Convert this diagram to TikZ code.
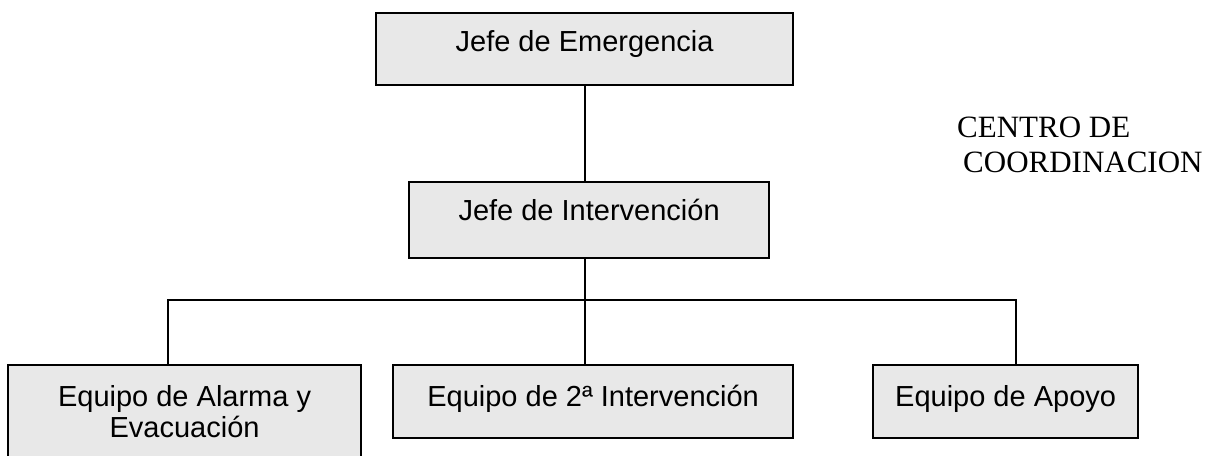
\documentclass[tikz,border=0pt]{standalone}
\usepackage{fontspec}
\setmainfont{Liberation Sans}
\newfontfamily\timesfont{Liberation Serif}
\definecolor{cajagris}{HTML}{E8E8E8}
\begin{document}
\begin{tikzpicture}[x=1pt, y=-1pt,
		caja/.style={draw, fill=cajagris, line width=2.2pt, inner sep=0pt, anchor=north west, align=center, font=\fontsize{29}{31}\selectfont, text height=21pt},
		linea/.style={line width=2.2pt}]
			\useasboundingbox (0,0) rectangle (1212,455);
			\clip (0,0) rectangle (1212,455);
			\node[caja, minimum width=417pt, minimum height=72pt, text depth=17pt] (emerg) at (375,12) {Jefe de Emergencia};
			\node[caja, minimum width=360pt, minimum height=76pt, text depth=21pt] (interv) at (408,181) {Jefe de Intervención};
			\node[caja, minimum width=353pt, minimum height=106pt, text height=52pt, text depth=14pt] (alarma) at (7,364) {Equipo de Alarma y\\Evacuación};
			\node[caja, minimum width=400pt, minimum height=73pt, text depth=12pt] (segunda) at (392,364) {Equipo de 2ª Intervención};
			\node[caja, minimum width=265pt, minimum height=73pt, text depth=12pt] (apoyo) at (872,364) {Equipo de Apoyo};
			\node[anchor=base west, align=left, inner sep=0pt, font=\timesfont\fontsize{31}{35}\selectfont] (centro) at (957,172) {CENTRO DE\\\hspace{6pt}COORDINACION};
			\coordinate (busL) at (168,300);
			\coordinate (busR) at (1016,300);
			\draw[linea] (emerg.south) -- (emerg.south |- interv.north);
			\draw[linea] (emerg.south |- interv.south) -- (emerg.south |- segunda.north);
			\draw[linea] (busL |- alarma.north) -- (busL) -- (busR) -- (busR |- apoyo.north);
		\end{tikzpicture}
\end{document}
